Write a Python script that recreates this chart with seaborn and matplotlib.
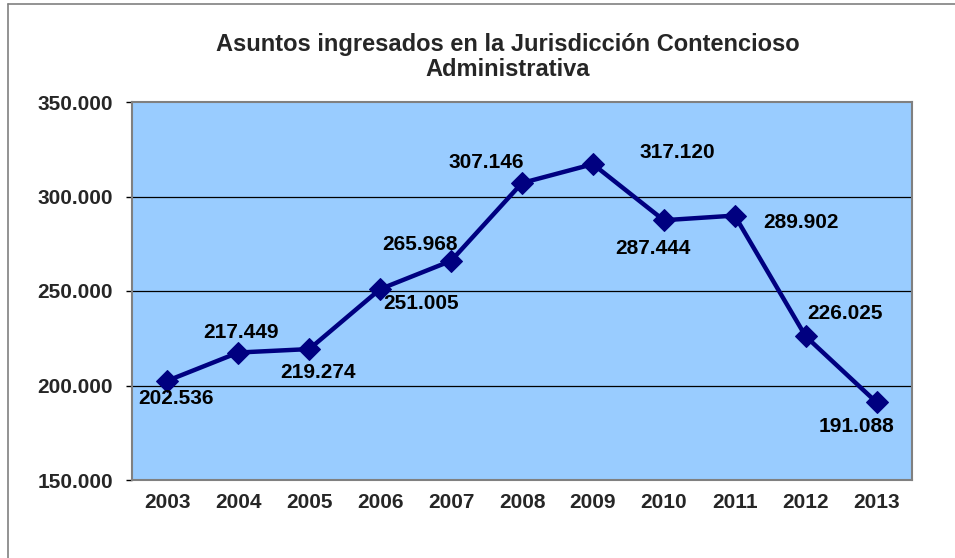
import matplotlib
matplotlib.use("Agg")
import matplotlib.pyplot as plt
import seaborn as sns
import pandas as pd
from matplotlib.lines import Line2D

years = ["2003", "2004", "2005", "2006", "2007", "2008", "2009", "2010", "2011", "2012", "2013"]
values = [202536, 217449, 219274, 251005, 265968, 307146, 317120, 287444, 289902, 226025, 191088]
labels = ["202.536", "217.449", "219.274", "251.005", "265.968", "307.146",
          "317.120", "287.444", "289.902", "226.025", "191.088"]
# label offsets in pixels (dx, dy downwards)
offsets = [(9, 18), (3, -20), (9, 23), (41, 14), (-31, -16), (-36, -20),
           (84, -12), (-11, 28), (66, 7), (39, -23), (-20, 24)]
yticks = [150000, 200000, 250000, 300000, 350000]
ytick_labels = ["150.000", "200.000", "250.000", "300.000", "350.000"]

sns.set_style("white")
plt.rcParams['font.family'] = ['Liberation Sans', 'DejaVu Sans']

W, H = 955, 558
fig = plt.figure(figsize=(W / 100, H / 100), dpi=100)
ax = fig.add_axes([132 / W, 1 - 480 / H, (912 - 132) / W, (480 - 102) / H])
ax.set_facecolor("#99CCFF")

df = pd.DataFrame({"pos": range(len(years)), "value": values})
sns.lineplot(data=df, x="pos", y="value", ax=ax, color="#000080", linewidth=3.2,
             marker="D", markersize=11, markeredgecolor="#000080", zorder=5)

ax.set_xlim(-0.5, len(years) - 0.5)
ax.set_ylim(150000, 350000)
ax.set_yticks(yticks)
ax.set_yticklabels(ytick_labels, fontsize=15, fontweight="bold")
ax.set_xticks(range(len(years)))
ax.set_xticklabels(years, fontsize=15, fontweight="bold")
ax.tick_params(axis="x", which="major", length=0, pad=9)
ax.set_xticks([i - 0.5 for i in range(len(years) + 1)], minor=True)
ax.tick_params(axis="x", which="minor", length=4.5, width=1, color="black", direction="out")
ax.tick_params(axis="y", which="major", length=4.5, width=1, color="black", direction="out", pad=9, left=True)
ax.set_xlabel("")
ax.set_ylabel("")

for y in yticks[1:-1]:
    ax.axhline(y, color="black", linewidth=0.9, zorder=1)

for s in ax.spines.values():
    s.set_color("#808080")
    s.set_linewidth(1.5)
    s.set_visible(True)

for i, (lab, (dx, dy)) in enumerate(zip(labels, offsets)):
    ax.annotate(lab, xy=(i, values[i]), xytext=(dx * 0.72, -dy * 0.72),
                textcoords="offset points", ha="center", va="center",
                fontsize=15, fontweight="bold", color="black", zorder=6)

fig.text(508 / W, 1 - 57 / H, "Asuntos ingresados en la Jurisdicción Contencioso\nAdministrativa",
         ha="center", va="center", fontsize=17, fontweight="bold", linespacing=1.1)

# outer frame (left and top edges visible)
fig.add_artist(Line2D([8 / W, 8 / W], [0, 1 - 4 / H], transform=fig.transFigure, color="#808080", linewidth=1.2))
fig.add_artist(Line2D([8 / W, 1], [1 - 4 / H, 1 - 4 / H], transform=fig.transFigure, color="#808080", linewidth=1.2))

fig.savefig("out.png", dpi=100)
